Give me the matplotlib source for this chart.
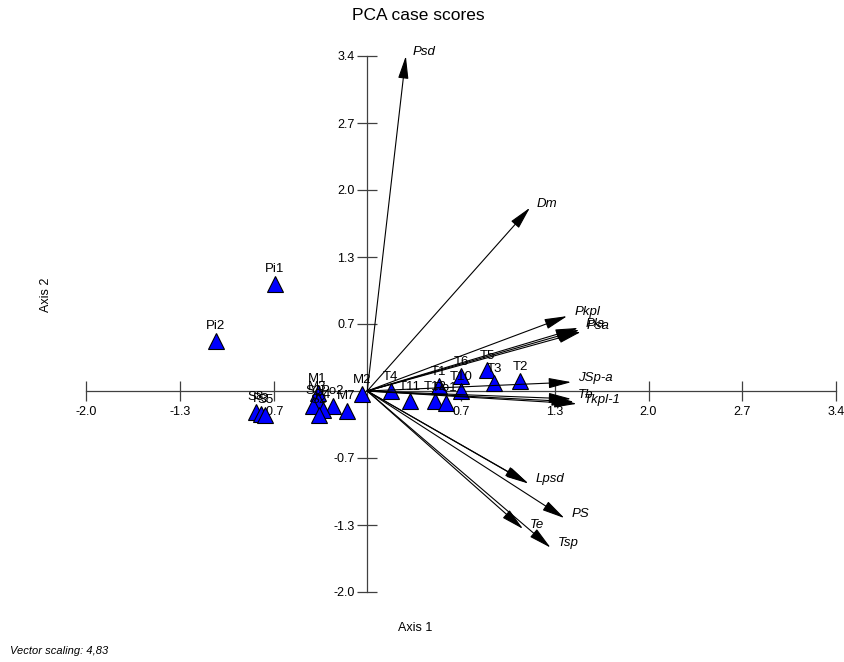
import matplotlib
matplotlib.use("Agg")
import matplotlib.pyplot as plt
import numpy as np

plt.rcParams['font.family'] = ['Liberation Sans', 'DejaVu Sans']

# CASE SCORES
point_names = ["Pi1", "Pi2", "S8", "P3", "S5",
               "M1", "M3", "S3", "Po2", "P4", "M7", "S2", "M2",
               "T4", "T11", "T1", "T12", "Po1", "T6", "T10", "T5", "T3", "T2"]
point_x = [-0.67, -1.10, -0.81, -0.77, -0.74,
           -0.36, -0.36, -0.39, -0.25, -0.32, -0.15, -0.35, -0.04,
           0.17, 0.31, 0.52, 0.49, 0.57, 0.68, 0.68, 0.87, 0.92, 1.11]
point_y = [1.09, 0.51, -0.21, -0.23, -0.24,
           -0.02, -0.10, -0.15, -0.15, -0.19, -0.20, -0.24, -0.03,
           0.00, -0.10, 0.05, -0.10, -0.12, 0.15, 0.00, 0.21, 0.08, 0.10]

# VARIABLE VECTORS (already scaled)
arrow_names = ["Psd", "Dm", "Pkpl", "Psa", "Pla", "", "JSp-a",
               "Tb", "Tkpl-1", "", "Lpsd", "", "PS", "Te", "Tsp"]
arrow_x = [0.28, 1.18, 1.45, 1.54, 1.53, 1.55, 1.48,
           1.48, 1.52, 1.50, 1.17, 1.16, 1.43, 1.13, 1.33]
arrow_y = [3.40, 1.86, 0.76, 0.62, 0.64, 0.60, 0.09,
           -0.08, -0.13, -0.11, -0.94, -0.93, -1.29, -1.40, -1.59]

ticks = [-2.04, -1.36, -0.68, 0.68, 1.36, 2.04, 2.72, 3.40]
tick_labels = ["-2.0", "-1.3", "-0.7", "0.7", "1.3", "2.0", "2.7", "3.4"]

fig = plt.figure(figsize=(8.44, 6.62), dpi=100)
ax = fig.add_axes([86/844, 70/662, 750/844, 536/662])
ax.set_xlim(-2.04, 3.40)
ax.set_ylim(-2.04, 3.40)

#AXES THROUGH THE ORIGIN
for s in ["top", "right"]:
	ax.spines[s].set_visible(False)
ax.spines["left"].set_position("zero")
ax.spines["bottom"].set_position("zero")
for s in ["left", "bottom"]:
	ax.spines[s].set_color("#404040")
	ax.spines[s].set_linewidth(0.9)
ax.set_xticks(ticks)
ax.set_yticks(ticks)
ax.set_xticklabels(tick_labels)
ax.set_yticklabels(tick_labels)
ax.tick_params(direction="inout", length=14, width=0.9, color="#404040",
               labelsize=9, pad=2)
ax.tick_params(axis="x", pad=4)

#POINTS
ax.plot(point_x, point_y, linestyle="none", marker="^", markersize=11,
        markerfacecolor="#0000ff", markeredgecolor="black", markeredgewidth=0.8, zorder=3)
for n, x, y in zip(point_names, point_x, point_y):
	ax.annotate(n, (x, y), xytext=(0, 6), textcoords="offset points",
	            ha="center", va="bottom", fontsize=9.5, zorder=5)

#ARROWS
for n, x, y in zip(arrow_names, arrow_x, arrow_y):
	ax.annotate("", xy=(x, y), xytext=(0, 0),
	            arrowprops=dict(arrowstyle="-|>,head_length=0.7,head_width=0.16",
	                            color="black", lw=0.8,
	                            mutation_scale=20, shrinkA=0, shrinkB=0), zorder=4)
	if n:
		ax.annotate(n, (x, y), xytext=(5, 3), textcoords="offset points",
		            ha="left", va="center", fontsize=9.5, style="italic", zorder=5)

fig.text(418/844, 1 - 15/662, "PCA case scores", ha="center", va="center", fontsize=12.5)
fig.text(415/844, 1 - 628/662, "Axis 1", ha="center", va="center", fontsize=9)
fig.text(46/844, 1 - 295/662, "Axis 2", ha="center", va="center", fontsize=9, rotation=90)
fig.text(10/844, 1 - 651/662, "Vector scaling: 4,83", ha="left", va="center",
         fontsize=8, style="italic")

fig.savefig("out.png", dpi=100)
